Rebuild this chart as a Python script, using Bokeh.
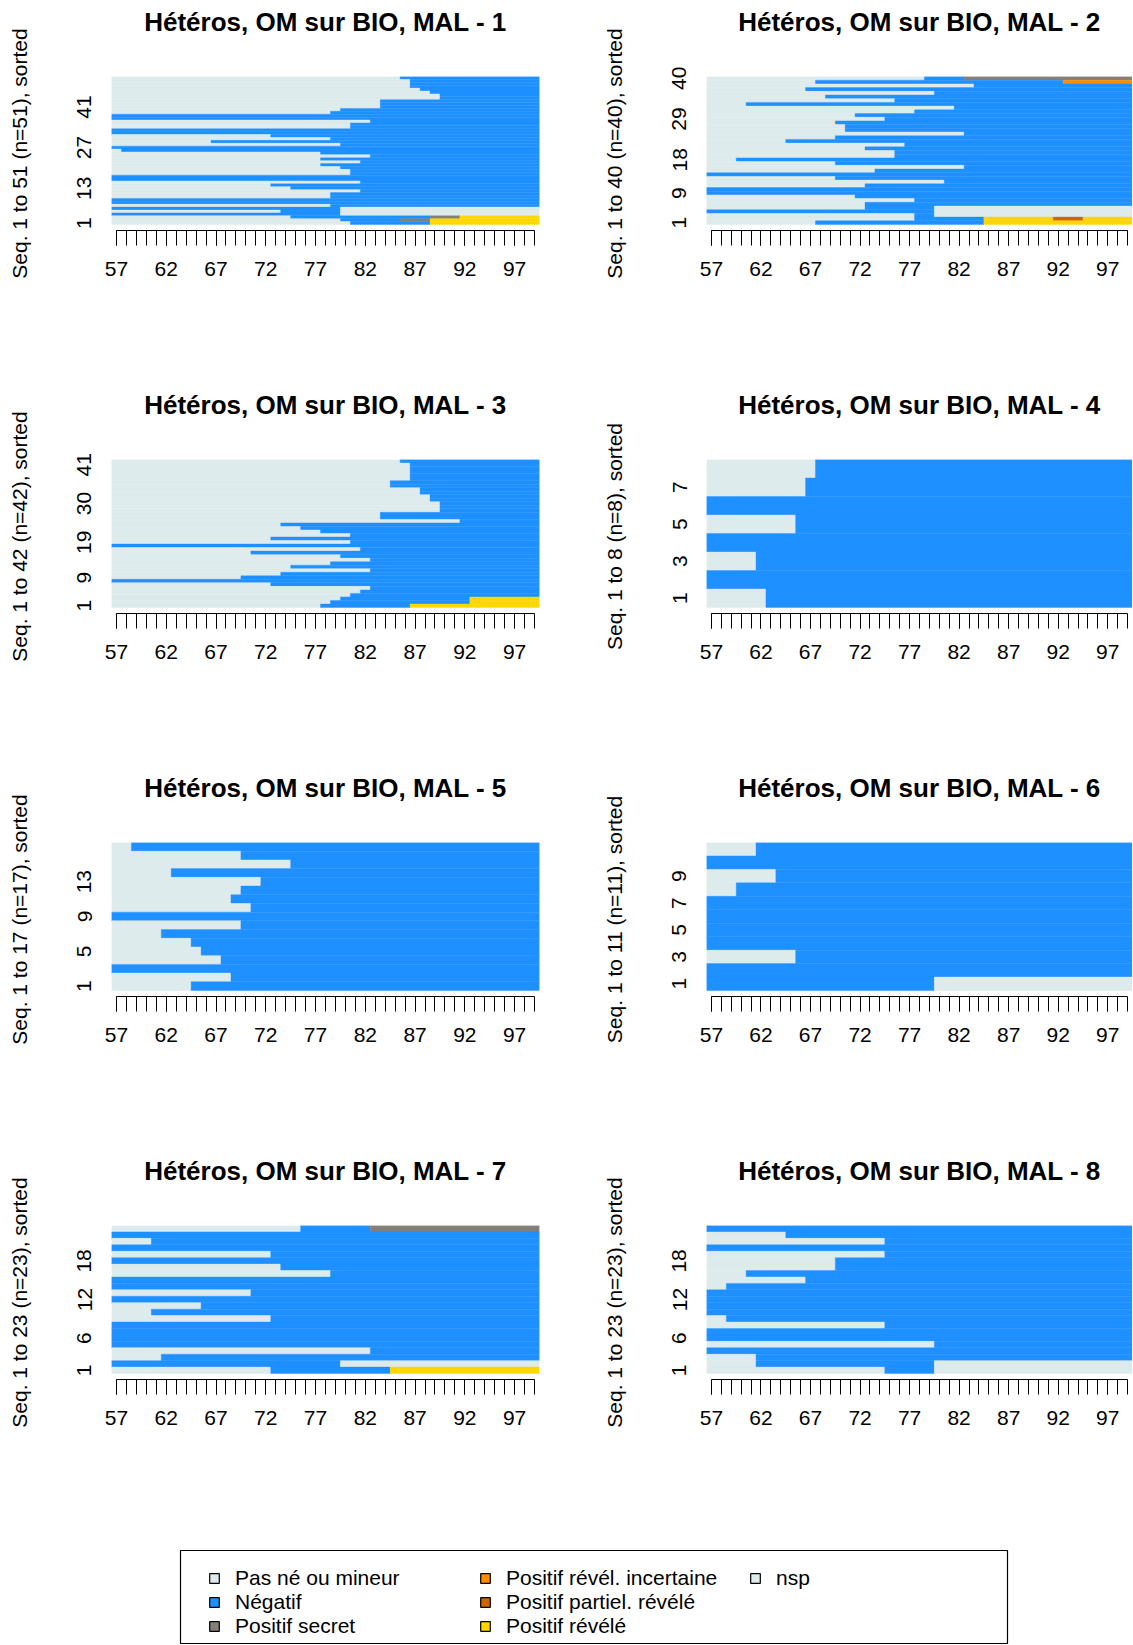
import re
from bokeh.plotting import figure
from bokeh.models import ColumnDataSource, FixedTicker, Legend, LegendItem, Range1d, Title
from bokeh.layouts import column, row
from bokeh.embed import file_html
from bokeh.resources import INLINE

FONT = "Liberation Sans"

# ---- states ----
STATE_CODES = ["P", "N", "S", "I", "R", "Y", "X"]
STATE_LABELS = ["Pas né ou mineur", "Négatif", "Positif secret",
                "Positif révél. incertaine", "Positif partiel. révélé",
                "Positif révélé", "nsp"]
STATE_COLORS = ["#DEEBEC", "#1E90FF", "#857F78", "#FF8C00", "#CD6600",
                "#FFD700", "#DEEBEC"]

AGE_FIRST = 57
AGE_END = 100          # sequences cover ages 57..99
X_TICKS = [57, 62, 67, 72, 77, 82, 87, 92, 97]

TITLES = ["Hétéros, OM sur BIO, MAL - 1", "Hétéros, OM sur BIO, MAL - 2",
          "Hétéros, OM sur BIO, MAL - 3", "Hétéros, OM sur BIO, MAL - 4",
          "Hétéros, OM sur BIO, MAL - 5", "Hétéros, OM sur BIO, MAL - 6",
          "Hétéros, OM sur BIO, MAL - 7", "Hétéros, OM sur BIO, MAL - 8"]

# y tick labels per panel
YT1 = [1, 13, 27, 41]
YT2 = [1, 9, 18, 29, 40]
YT3 = [1, 9, 19, 30, 41]
YT4 = [1, 3, 5, 7]
YT5 = [1, 5, 9, 13]
YT6 = [1, 3, 5, 7, 9]
YT7 = [1, 6, 12, 18]
YT8 = [1, 6, 12, 18]

# sequences, listed from the top row (seq n) down to seq 1;
# each token = state code + age at which that state starts
MAL1 = ["P57 N86", "P57 N87", "P57 N87", "P57 N87", "P57 N88", "P57 N89",
        "P57 N90", "P57 N90", "P57 N84", "P57 N84", "P57 N84", "P57 N80",
        "P57 N79", "N57", "N57", "P57 N83", "P57 N81", "P57 N81", "N57",
        "N57", "P57 N73", "P57 N79", "P57 N67", "P57 N80", "N57", "P57 N58",
        "P57 N78", "P57 N83", "P57 N78", "P57 N82", "P57 N78", "P57 N80",
        "P57 N81", "P57 N81", "N57", "N57", "P57 N82", "P57 N73", "P57 N75",
        "P57 N82", "P57 N79", "P57 N79", "N57", "N57", "P57 N79", "N57 X80",
        "P57 N74 X80", "N57 X80", "P57 N75 S89 Y92", "P57 N80 S86 Y89",
        "P57 N81 Y89"]
MAL2 = ["P57 N79 S83", "P57 N68 I93", "P57 N84", "P57 N67", "P57 N80",
        "P57 N69", "P57 N76", "P57 N61", "P57 N82", "P57 N78", "P57 N72",
        "P57 N75", "P57 N70", "P57 N71", "P57 N71", "P57 N83", "P57 N70",
        "P57 N65", "P57 N77", "P57 N73", "P57 N76", "P57 N76", "P57 N60",
        "P57 N70", "P57 N83", "P57 N74", "N57", "P57 N70", "P57 N81",
        "P57 N73", "N57", "N57", "P57 N72", "P57 N78", "P57 N73",
        "P57 N73 X80", "N57 X80", "P57 N78 X80", "P57 N78 Y85 R92 Y95",
        "P57 N68 Y85"]
MAL3 = ["P57 N86", "P57 N87", "P57 N87", "P57 N87", "P57 N87", "P57 N87",
        "P57 N85", "P57 N85", "P57 N88", "P57 N88", "P57 N89", "P57 N89",
        "P57 N90", "P57 N90", "P57 N90", "P57 N84", "P57 N84", "P57 N92",
        "P57 N74", "P57 N76", "P57 N78", "P57 N81", "P57 N73", "P57 N81",
        "N57", "P57 N82", "P57 N71", "P57 N80", "P57 N83", "P57 N79",
        "P57 N75", "P57 N83", "P57 N74", "P57 N70", "N57", "P57 N73",
        "P57 N83", "P57 N82", "P57 N81", "P57 N80 Y93", "P57 N79 Y93",
        "P57 N78 Y87"]
MAL4 = ["P57 N68", "P57 N67", "N57", "P57 N66", "N57", "P57 N62", "N57",
        "P57 N63"]
MAL5 = ["P57 N59", "P57 N70", "P57 N75", "P57 N63", "P57 N72", "P57 N70",
        "P57 N69", "P57 N71", "N57", "P57 N70", "P57 N62", "P57 N65",
        "P57 N66", "P57 N68", "N57", "P57 N69", "P57 N65"]
MAL6 = ["P57 N62", "N57", "P57 N64", "P57 N60", "N57", "N57", "N57", "N57",
        "P57 N66", "N57", "N57 X80"]
MAL7 = ["P57 N76 S83", "N57", "P57 N61", "N57", "P57 N73", "N57", "P57 N74",
        "P57 N79", "N57", "N57", "P57 N71", "N57", "P57 N66", "P57 N61",
        "P57 N73", "N57", "N57", "N57", "N57", "P57 N83", "P57 N62",
        "N57 X80", "P57 N73 Y85"]
MAL8 = ["N57", "P57 N65", "P57 N75", "N57", "P57 N75", "P57 N70", "P57 N70",
        "P57 N61", "P57 N67", "P57 N59", "N57", "N57", "N57", "N57",
        "P57 N59", "P57 N75", "N57", "N57", "P57 N80", "N57", "P57 N62",
        "P57 N62 X80", "P57 N75 X80"]

PANELS = [(MAL1, YT1), (MAL2, YT2), (MAL3, YT3), (MAL4, YT4),
          (MAL5, YT5), (MAL6, YT6), (MAL7, YT7), (MAL8, YT8)]

COLOR_OF = dict(zip(STATE_CODES, STATE_COLORS))


def runs_of(rows):
    n = len(rows)
    left, right, bottom, top, color = [], [], [], [], []
    for k, spec in enumerate(rows):
        seq = n - k
        toks = [(t[0], int(t[1:])) for t in spec.split()]
        for j, (code, start) in enumerate(toks):
            end = toks[j + 1][1] if j + 1 < len(toks) else AGE_END
            left.append(start - 0.5)
            right.append(end - 0.5)
            bottom.append(seq - 0.5)
            top.append(seq + 0.5)
            color.append(COLOR_OF[code])
    return dict(left=left, right=right, bottom=bottom, top=top, color=color)


def make_panel(title, rows, yticks, is_left):
    n = len(rows)
    bars_px = 148.0
    gap = 6.0 * n / bars_px
    width = 599 if is_left else 533
    p = figure(width=width, height=383,
               x_range=Range1d(AGE_FIRST - 0.5, AGE_END - 0.5),
               y_range=Range1d(0.5 - gap, n + 0.5),
               output_backend="svg", toolbar_location=None,
               min_border_left=(111 if is_left else 103),
               min_border_right=(60 if is_left else 0),
               min_border_top=76, min_border_bottom=153)
    p.outline_line_color = None
    p.grid.visible = False
    p.background_fill_color = "white"
    p.border_fill_color = "white"
    src = ColumnDataSource(runs_of(rows))
    p.quad(left="left", right="right", bottom="bottom", top="top",
           fill_color="color", line_color="color", line_width=0.4,
           source=src)

    # title (a thin spacer keeps it away from the plotting area)
    p.title = None
    p.add_layout(Title(text=" ", text_font_size="1px", standoff=37), "above")
    t = Title(text=title, standoff=0, align="center", text_font=FONT,
              text_font_size="26px", text_font_style="bold",
              text_color="black")
    p.add_layout(t, "above")

    # x axis
    xa = p.xaxis[0]
    xa.ticker = FixedTicker(ticks=X_TICKS,
                            minor_ticks=list(range(AGE_FIRST, AGE_END)))
    xa.bounds = (AGE_FIRST, AGE_END - 1)
    xa.axis_line_color = "black"
    xa.major_tick_line_color = "black"
    xa.minor_tick_line_color = "black"
    xa.major_tick_in = 0
    xa.minor_tick_in = 0
    xa.major_tick_out = 15
    xa.minor_tick_out = 15
    xa.major_label_text_font = FONT
    xa.major_label_text_font_size = "21px"
    xa.major_label_text_color = "black"
    xa.major_label_standoff = 16

    # y axis
    ya = p.yaxis[0]
    ya.ticker = FixedTicker(ticks=yticks, minor_ticks=[])
    ya.axis_line_color = None
    ya.major_tick_line_color = None
    ya.minor_tick_line_color = None
    ya.major_label_orientation = "vertical"
    ya.major_label_text_font = FONT
    ya.major_label_text_font_size = "21px"
    ya.major_label_text_color = "black"
    ya.major_label_standoff = 14
    ya.axis_label = "Seq. 1 to %d (n=%d), sorted" % (n, n)
    ya.axis_label_text_font = FONT
    ya.axis_label_text_font_size = "21px"
    ya.axis_label_text_font_style = "normal"
    ya.axis_label_text_color = "black"
    ya.axis_label_standoff = 44
    return p


panels = [make_panel(TITLES[i], PANELS[i][0], PANELS[i][1], i % 2 == 0)
          for i in range(8)]

# ---- legend ----
lg = figure(width=1010, height=113, x_range=Range1d(0, 1), y_range=Range1d(0, 1),
            output_backend="svg", toolbar_location=None,
            x_axis_location=None, y_axis_location=None,
            min_border_left=180, min_border_right=3,
            min_border_top=18, min_border_bottom=2)
lg.grid.visible = False
lg.outline_line_color = "black"
lg.outline_line_width = 1.2
items = []
for lab, col in zip(STATE_LABELS, STATE_COLORS):
    # dummy renderer placed outside the visible range: only its legend swatch shows
    r = lg.quad(left=[5], right=[6], top=[6], bottom=[5], fill_color=col,
                line_color="black", line_width=1.2)
    items.append(LegendItem(label=lab, renderers=[r]))

LEGEND_COLUMNS = [items[0:3], items[3:6], items[6:7]]
LEGEND_LOC = [(28, 5), (299, 5), (569, 53)]
for its, loc in zip(LEGEND_COLUMNS, LEGEND_LOC):
    leg = Legend(items=its, location=loc, orientation="vertical",
                 padding=0, margin=0, spacing=0,
                 border_line_color=None, background_fill_alpha=0,
                 glyph_width=12, glyph_height=12, label_standoff=15,
                 label_height=24,
                 label_text_font=FONT, label_text_font_size="21px",
                 label_text_color="black")
    lg.add_layout(leg)

layout = column(row(panels[0], panels[1]), row(panels[2], panels[3]),
                row(panels[4], panels[5]), row(panels[6], panels[7]), lg)

open("out.html", "w").write(file_html(layout, INLINE))
